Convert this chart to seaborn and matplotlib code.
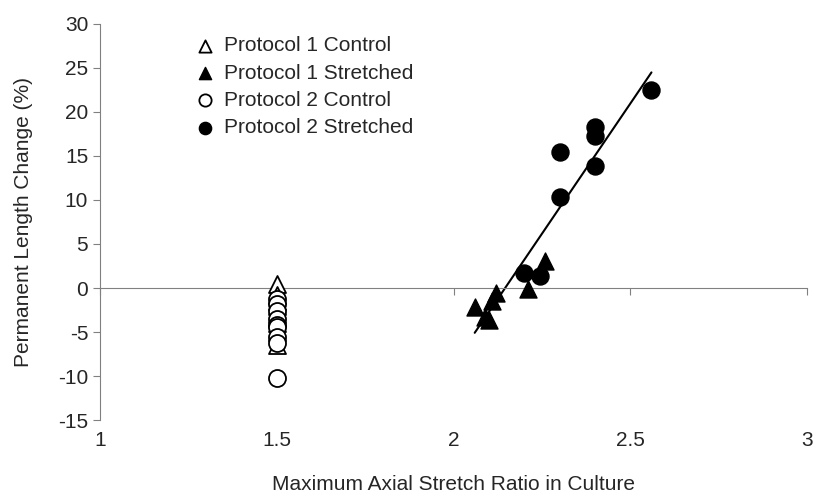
import matplotlib
matplotlib.use("Agg")
import matplotlib.pyplot as plt
import seaborn as sns
import numpy as np
import pandas as pd

sns.set_style("white")
plt.rcParams['font.family'] = ['Liberation Sans', 'DejaVu Sans']
plt.rcParams['axes.unicode_minus'] = False

# Data
p1_ctrl_x = [1.5] * 8
p1_ctrl_y = [0.5, -0.8, -1.5, -2.0, -3.0, -4.0, -5.0, -6.5]
p1_str_x = [2.06, 2.09, 2.10, 2.11, 2.12, 2.21, 2.26]
p1_str_y = [-2.2, -3.3, -3.6, -1.5, -0.6, -0.1, 3.1]
p2_ctrl_x = [1.5] * 9
p2_ctrl_y = [-1.3, -1.8, -2.6, -3.5, -4.2, -4.4, -5.6, -6.2, -10.2]
p2_str_x = [2.20, 2.245, 2.30, 2.30, 2.40, 2.40, 2.40, 2.56]
p2_str_y = [1.7, 1.4, 15.4, 10.3, 18.3, 17.3, 13.9, 22.5]

labels = ["Protocol 1 Control", "Protocol 1 Stretched",
          "Protocol 2 Control", "Protocol 2 Stretched"]
xticks = [1, 1.5, 2, 2.5, 3]
xticklabels = ["1", "1.5", "2", "2.5", "3"]
yticks = list(range(-15, 31, 5))

fs = 15
fig = plt.figure(figsize=(8.15, 5.0), dpi=100)
ax = fig.add_axes([100/815, 80/500, 707/815, 396/500])

gray = "#808080"
ms = 150
sns.scatterplot(x=p1_ctrl_x, y=p1_ctrl_y, marker="^", s=ms, facecolor="white",
                edgecolor="black", linewidth=1.3, ax=ax, label=labels[0], zorder=3)
sns.scatterplot(x=p1_str_x, y=p1_str_y, marker="^", s=ms, color="black",
                edgecolor="black", linewidth=1.0, ax=ax, label=labels[1], zorder=3)
sns.scatterplot(x=p2_ctrl_x, y=p2_ctrl_y, marker="o", s=ms, facecolor="white",
                edgecolor="black", linewidth=1.3, ax=ax, label=labels[2], zorder=3)
sns.scatterplot(x=p2_str_x, y=p2_str_y, marker="o", s=ms, color="black",
                edgecolor="black", linewidth=1.0, ax=ax, label=labels[3], zorder=3)

stretched = pd.DataFrame({"x": p1_str_x + p2_str_x, "y": p1_str_y + p2_str_y})
sns.regplot(data=stretched, x="x", y="y", scatter=False, ci=None, truncate=True,
            line_kws=dict(color="black", lw=1.5), ax=ax)

ax.set_xlim(1, 3)
ax.set_ylim(-15, 30)
ax.set_yticks(yticks)
ax.set_xticks(xticks)

for s in ["top", "right"]:
    ax.spines[s].set_visible(False)
ax.spines["left"].set_color(gray)
ax.spines["bottom"].set_color(gray)
ax.spines["bottom"].set_position(("data", 0))
ax.tick_params(axis="y", direction="out", length=5, color=gray, labelsize=fs, left=True)
ax.tick_params(axis="x", direction="out", length=5, color=gray, labelbottom=False, bottom=True)

sec = ax.secondary_xaxis(0)
sec.set_xticks(xticks)
sec.set_xticklabels(xticklabels)
sec.spines["bottom"].set_visible(False)
sec.tick_params(length=0, labelsize=fs, pad=8)
sec.set_xlabel("Maximum Axial Stretch Ratio in Culture", fontsize=fs, labelpad=18)

ax.set_xlabel("")
ax.set_ylabel("Permanent Length Change (%)", fontsize=fs, labelpad=18)

leg = ax.legend(loc="upper left", bbox_to_anchor=(0.107, 0.99), frameon=False,
                fontsize=fs, handletextpad=-0.1, labelspacing=0.40, markerscale=0.72,
                borderaxespad=0)

fig.savefig("out.png", dpi=100)
